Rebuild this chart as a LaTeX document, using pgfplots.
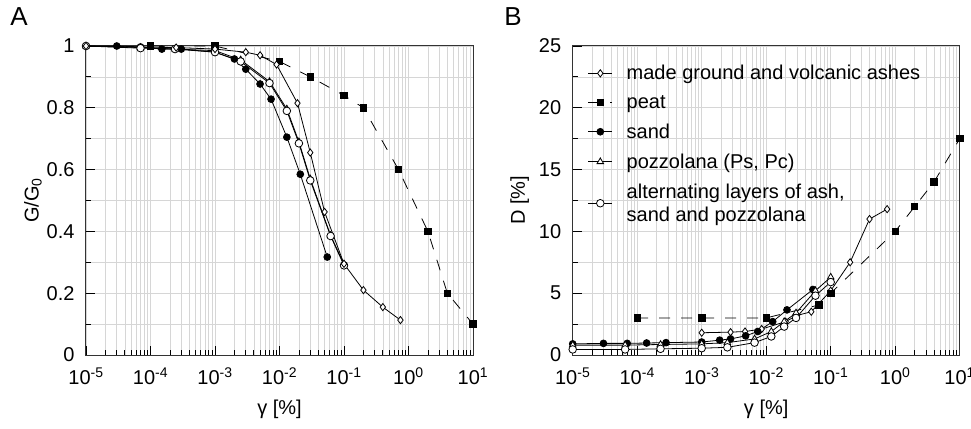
\documentclass[border=0pt]{standalone}
\usepackage{fontspec}
\setmainfont{Liberation Sans}
\usepackage{pgfplots}
\pgfplotsset{compat=1.18}
\pgfplotsset{
  every axis/.append style={
    scale only axis, width=387pt, height=309pt,
    grid=both,
    major grid style={black!16, line width=0.6pt},
    minor grid style={black!16, line width=0.6pt},
    tick align=inside, tick pos=left,
    major tick length=9pt, minor tick length=5pt,
    every tick/.style={black, line width=0.8pt},
    axis line style={black!80, line width=1pt},
    minor y tick num=1,
    tick label style={font=\fontsize{20}{24}\selectfont},
    xticklabel style={yshift=-9pt},
    yticklabel style={xshift=-8pt, /pgf/number format/assume math mode=true},
    clip=false,
    every axis y label/.style={at={(axis description cs:0,0.5)}, xshift=-53pt, rotate=90, anchor=center, font=\fontsize{20}{24}\selectfont},
    every axis x label/.style={at={(axis description cs:0.5,0)}, yshift=-54pt, anchor=center, font=\fontsize{20}{24}\selectfont},
  },
  mg/.style={black, line width=0.8pt, mark=diamond*, mark size=3.6pt, mark options={fill=white, solid}},
  pe/.style={black, line width=0.8pt, dash pattern=on 11pt off 11pt, mark=square*, mark size=3.2pt, mark options={solid}},
  sd/.style={black, line width=0.8pt, mark=*, mark size=3.4pt, mark options={solid}},
  pz/.style={black, line width=0.8pt, mark=triangle*, mark size=3.8pt, mark options={fill=white, solid}},
  al/.style={black, line width=0.8pt, mark=*, mark size=3.8pt, mark options={fill=white, solid}},
}
\begin{document}
\begin{tikzpicture}
\useasboundingbox (-86pt,-73pt) rectangle (885pt,355pt);
% ---------------- Panel A ----------------
\begin{axis}[xmode=log, xmin=1e-5, xmax=10,
  xtick={1e-5,1e-4,1e-3,1e-2,1e-1,1,10},
  xticklabels={10\textsuperscript{-5},10\textsuperscript{-4},10\textsuperscript{-3},10\textsuperscript{-2},10\textsuperscript{-1},10\textsuperscript{0},10\textsuperscript{1}},
  at={(0pt,0pt)}, anchor=south west,
  ymin=0, ymax=1, ytick={0,0.2,0.4,0.6,0.8,1},
  xlabel={γ [\%]},
  ylabel={G/G\textsubscript{0}}]
\addplot[pe] coordinates {(1e-4,1.0) (1e-3,1.0) (1e-2,0.95) (3e-2,0.90) (0.1,0.84) (0.2,0.80) (0.7,0.60) (2,0.40) (4,0.20) (10,0.10)};
\addplot[sd] coordinates {(1e-5,1.0) (3e-5,1.0) (7e-5,0.997) (1.5e-4,0.99) (3e-4,0.99) (1e-3,0.98) (2e-3,0.958) (3e-3,0.925) (5e-3,0.877) (7.4e-3,0.828) (1.3e-2,0.705) (2.1e-2,0.585) (5.5e-2,0.317)};
\addplot[pz] coordinates {(1e-5,1.0) (7e-5,0.995) (2.4e-4,0.99) (1e-3,0.985) (2.5e-3,0.955) (7e-3,0.885) (1.3e-2,0.796) (2e-2,0.69) (3e-2,0.57) (6.2e-2,0.387) (0.1,0.294)};
\addplot[al] coordinates {(1e-5,1.0) (7e-5,0.993) (2.4e-4,0.99) (1e-3,0.98) (2.5e-3,0.95) (7e-3,0.88) (1.3e-2,0.79) (2e-2,0.685) (3e-2,0.565) (6.2e-2,0.385) (0.1,0.29)};
\addplot[mg] coordinates {(1e-5,1.0) (2.5e-4,0.995) (1e-3,0.99) (3e-3,0.98) (5e-3,0.97) (9e-3,0.94) (1.9e-2,0.815) (3e-2,0.655) (5e-2,0.463) (0.1,0.295) (0.2,0.21) (0.4,0.155) (0.75,0.113)};
\end{axis}
\node[font=\fontsize{26}{30}\selectfont] at (-67pt,338pt) {A};
% ---------------- Panel B ----------------
\begin{axis}[xmode=log, xmin=1e-5, xmax=10,
  xtick={1e-5,1e-4,1e-3,1e-2,1e-1,1,10},
  xticklabels={10\textsuperscript{-5},10\textsuperscript{-4},10\textsuperscript{-3},10\textsuperscript{-2},10\textsuperscript{-1},10\textsuperscript{0},10\textsuperscript{1}},
  at={(486.7pt,0pt)}, anchor=south west,
  ymin=0, ymax=25, ytick={0,5,10,15,20,25},
  xlabel={γ [\%]},
  ylabel={D [\%]},
  legend cell align=left,
  legend style={at={(0.031,0.951)}, anchor=north west, draw=none, fill=none,
    font=\fontsize{20}{23}\selectfont, row sep=10pt, column sep=12pt, cells={align=left}},
  legend image code/.code={\draw[mark repeat=2,mark phase=2,#1] plot coordinates {(0pt,0pt) (12pt,0pt) (24pt,0pt)};}]
\addplot[mg] coordinates {(1e-3,1.8) (2.8e-3,1.85) (4.7e-3,1.9) (8.5e-3,2.1) (2e-2,2.7) (3e-2,3.2) (5e-2,3.5) (0.1,5.2) (0.2,7.5) (0.4,11.0) (0.75,11.8)};
\addlegendentry{made ground and volcanic ashes}
\addplot[pe] coordinates {(1e-4,3) (1e-3,3) (1e-2,3) (6.6e-2,4.05) (0.1,5.0) (1,10) (2,12) (4,14) (10,17.5)};
\addlegendentry{peat}
\addplot[sd] coordinates {(1e-5,0.9) (3e-5,0.94) (7e-5,0.94) (1.4e-4,0.97) (2.8e-4,1.0) (1e-3,1.05) (1.9e-3,1.2) (2.8e-3,1.3) (4.8e-3,1.55) (7.4e-3,1.9) (1.26e-2,2.7) (2.1e-2,3.65) (5.3e-2,5.3)};
\addlegendentry{sand}
\addplot[pz] coordinates {(1e-5,0.8) (6.5e-5,0.8) (2.3e-4,0.85) (1e-3,0.9) (2.5e-3,1.0) (6.6e-3,1.3) (1.2e-2,1.9) (1.9e-2,2.7) (2.9e-2,3.4) (5.8e-2,5.2) (0.1,6.3)};
\addlegendentry{pozzolana (Ps, Pc)}
\addplot[al] coordinates {(1e-5,0.45) (6.5e-5,0.45) (2.3e-4,0.5) (1e-3,0.55) (2.5e-3,0.62) (6.6e-3,1.0) (1.2e-2,1.5) (1.9e-2,2.3) (2.9e-2,3.0) (5.8e-2,4.8) (0.1,5.9)};
\addlegendentry{alternating layers of ash,\\sand and pozzolana}
\end{axis}
\node[font=\fontsize{26}{30}\selectfont] at (427pt,338pt) {B};
\end{tikzpicture}
\end{document}
